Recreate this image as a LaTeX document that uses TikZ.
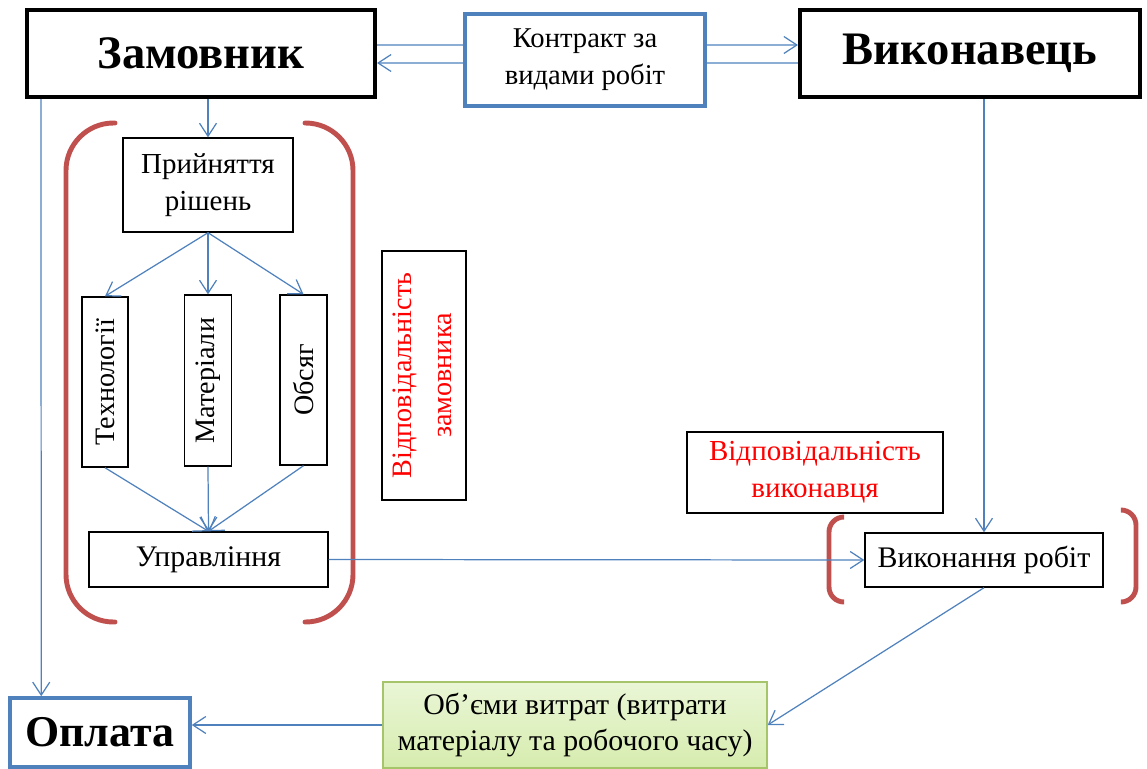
\documentclass[tikz,border=0pt]{standalone}
\usepackage{fontspec}
\setmainfont{Liberation Serif}
\usetikzlibrary{arrows.meta}
\definecolor{linkblue}{HTML}{4F81BD}
\definecolor{bracketred}{HTML}{C0504D}
\definecolor{ogreen}{HTML}{A6C46A}
\definecolor{otop}{HTML}{EAF6D6}
\definecolor{obottom}{HTML}{D6ECAE}
\begin{document}
\begin{tikzpicture}[
       box/.style={rectangle, draw=black, line width=0.8pt, align=center, inner sep=2pt, font=\fontsize{16}{21}\selectfont},
       bigbox/.style={box, line width=2.3pt, font=\fontsize{26.5}{30}\selectfont\bfseries},
       bluebox/.style={box, draw=linkblue, line width=1.8pt},
       redbox/.style={box, text=red},
       arrow/.style={-{Straight Barb[length=2.6mm,width=3.4mm]}, linkblue, line width=0.7pt},
       line/.style={linkblue, line width=0.7pt},
       bracket/.style={draw=bracketred, line width=2.8pt, line cap=round}
   ]
   \useasboundingbox (0,0) rectangle (22.94,-15.38);

   % top row
   \node[bigbox, minimum width=6.96cm, minimum height=1.74cm] (zam) at (4.02,-1.07) {Замовник};
   \node[bluebox, minimum width=4.8cm, minimum height=1.84cm, font=\fontsize{16.3}{21}\selectfont] (contract) at (11.7,-1.2) {Контракт за\\видами робіт};
   \node[bigbox, minimum width=6.8cm, minimum height=1.74cm] (vyk) at (19.4,-1.07) {Виконавець};

   % customer block
   \node[box, minimum width=3.4cm, minimum height=1.88cm, font=\fontsize{16.5}{21}\selectfont] (rish) at (4.16,-3.7) {Прийняття\\рішень};
   \node[box, minimum width=0.92cm, minimum height=3.4cm] (tech) at (2.1,-7.64) {\rotatebox{90}{Технології}};
   \node[box, minimum width=0.94cm, minimum height=3.42cm] (mat) at (4.16,-7.61) {\rotatebox{90}{Матеріали}};
   \node[box, minimum width=0.94cm, minimum height=3.4cm] (obs) at (6.07,-7.6) {\rotatebox{90}{Обсяг}};
   \node[box, minimum width=4.78cm, minimum height=1.1cm, font=\fontsize{17}{21}\selectfont] (upr) at (4.17,-11.19) {Управління};
   \node[redbox, minimum width=1.68cm, minimum height=4.98cm] (vz) at (8.48,-7.51) {\rotatebox{90}{\begin{tabular}{@{}c@{}}Відповідальність\\[2pt]замовника\end{tabular}}};

   % contractor block
   \node[redbox, minimum width=5.12cm, minimum height=1.62cm, font=\fontsize{16.5}{21}\selectfont] (vv) at (16.3,-9.45) {Відповідальність\\виконавця};
   \node[box, minimum width=4.76cm, minimum height=1.08cm, font=\fontsize{17}{21}\selectfont] (vr) at (19.68,-11.2) {Виконання робіт};

   % bottom row
   \node[bluebox, line width=2pt, minimum width=3.6cm, minimum height=1.38cm, font=\fontsize{25}{30}\selectfont\bfseries] (opl) at (2.0,-14.65) {Оплата};
   \node[box, draw=ogreen, top color=otop, bottom color=obottom, minimum width=7.68cm, minimum height=1.72cm, font=\fontsize{17}{20}\selectfont] (ob) at (11.5,-14.5) {Об’єми витрат (витрати\\матеріалу та робочого часу)};

   % brackets
   \draw[bracket, rounded corners=0.95cm] (2.3,-2.46) -- (1.32,-2.46) -- (1.32,-12.44) -- (2.3,-12.44);
   \draw[bracket, rounded corners=0.95cm] (6.1,-2.46) -- (7.06,-2.46) -- (7.06,-12.44) -- (6.1,-12.44);
   \draw[bracket, rounded corners=0.3cm] (16.86,-10.34) -- (16.58,-10.34) -- (16.58,-12.04) -- (16.86,-12.04);
   \draw[bracket, rounded corners=0.3cm] (22.44,-10.2) -- (22.72,-10.2) -- (22.72,-12.04) -- (22.44,-12.04);

   % contract links
   \draw[line] ([yshift=0.3cm]contract.west) -- ([yshift=0.17cm]zam.east);
   \draw[arrow] ([yshift=-0.06cm]contract.west) -- ([yshift=-0.19cm]zam.east);
   \draw[arrow] ([yshift=0.3cm]contract.east) -- ([yshift=0.17cm]vyk.west);
   \draw[line] ([yshift=-0.06cm]contract.east) -- ([yshift=-0.19cm]vyk.west);

   \draw[arrow] ([xshift=0.32cm]zam.south west) -- ([xshift=0.66cm]opl.north west);
   \draw[arrow] (rish.north |- zam.south) -- (rish.north);
   \draw[arrow] (rish.south) -- (tech.north);
   \draw[arrow] (rish.south) -- (mat.north);
   \draw[arrow] (rish.south) -- (obs.north);
   \draw[arrow] (tech.south) -- (upr.north);
   \draw[arrow] (mat.south) -- (upr.north);
   \draw[arrow] (obs.south) -- (upr.north);
   \draw[arrow] (upr.east) -- (vr.west);
   \draw[arrow] (vr.north |- vyk.south) -- (vr.north);
   \draw[arrow] (vr.south) -- (ob.east);
   \draw[arrow] (ob.west) -- (ob.west -| opl.east);
\end{tikzpicture}
\end{document}
